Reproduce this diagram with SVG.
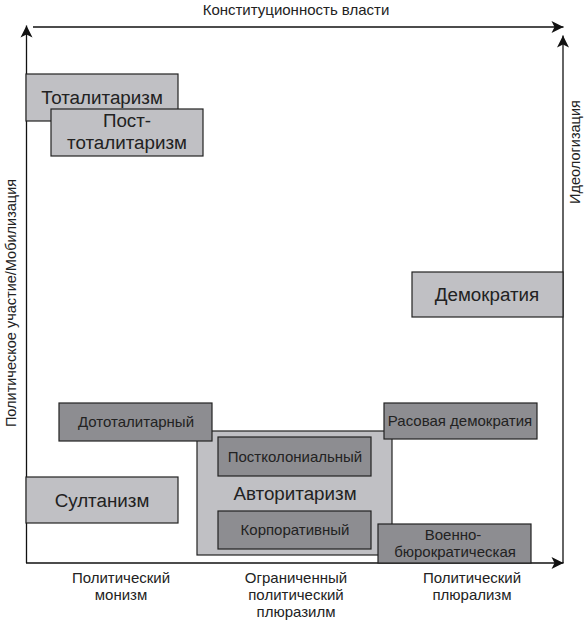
<svg xmlns="http://www.w3.org/2000/svg" width="585" height="623" viewBox="0 0 585 623">
<style>
  text { font-family: "Liberation Sans", Arial, sans-serif; fill: #222; text-anchor: middle; }
  .big { font-size: 18.8px; }
  .sm { font-size: 15px; }
  .ax { font-size: 15px; }
  .axv { font-size: 14.5px; }
  .light { fill: #c0c0c4; stroke: #222; stroke-width: 1.2; }
  .dark { fill: #8d8d91; stroke: #222; stroke-width: 1.2; }
  .axis { stroke: #111; stroke-width: 1.3; fill: none; }
</style>
<defs>
  <marker id="arr" markerUnits="userSpaceOnUse" markerWidth="14" markerHeight="14" viewBox="0 0 14 14" refX="13" refY="7" orient="auto">
    <path d="M1,1 L13,7 L1,13 L4,7 Z" fill="#111"/>
  </marker>
</defs>
<rect width="585" height="623" fill="#fff"/>
<g id="connectors">
  <line class="axis" x1="26.5" y1="563" x2="26.5" y2="25.5" marker-end="url(#arr)"/>
  <line class="axis" x1="33" y1="27" x2="563.5" y2="27" marker-end="url(#arr)"/>
  <line class="axis" x1="563" y1="563" x2="563" y2="35.5" marker-end="url(#arr)"/>
  <line class="axis" x1="26" y1="563" x2="563.5" y2="563" marker-end="url(#arr)"/>
</g>
<g id="axis-labels">
  <text class="ax" x="296" y="15">Конституционность власти</text>
  <text class="axv" transform="translate(16,303) rotate(-90)">Политическое участие/Мобилизация</text>
  <text class="axv" transform="translate(580,152) rotate(-90)">Идеологизация</text>
  <text class="ax" x="121" y="583">Политический</text>
  <text class="ax" x="121" y="600">монизм</text>
  <text class="ax" x="296" y="583">Ограниченный</text>
  <text class="ax" x="296" y="600">политический</text>
  <text class="ax" x="296" y="617">плюразилм</text>
  <text class="ax" x="472" y="583">Политический</text>
  <text class="ax" x="472" y="600">плюрализм</text>
</g>
<g id="totalitarism">
  <rect class="light" x="26" y="74" width="152" height="47"/>
  <text class="big" x="102" y="104">Тоталитаризм</text>
</g>
<g id="post-totalitarism">
  <rect class="light" x="51" y="109" width="152" height="47"/>
  <text class="big" x="127" y="127">Пост-</text>
  <text class="big" x="127" y="149">тоталитаризм</text>
</g>
<g id="democracy">
  <rect class="light" x="412" y="272" width="151" height="45"/>
  <text class="big" x="487" y="301">Демократия</text>
</g>
<g id="authoritarianism">
  <rect class="light" x="197" y="431" width="195" height="124"/>
  <text class="big" x="295" y="500">Авторитаризм</text>
</g>
<g id="pretotalitarian">
  <rect class="dark" x="59" y="403" width="153" height="38"/>
  <text class="sm" x="136" y="427">Дототалитарный</text>
</g>
<g id="racial-democracy">
  <rect class="dark" x="384" y="403" width="153" height="36"/>
  <text class="sm" x="460" y="426">Расовая демократия</text>
</g>
<g id="postcolonial">
  <rect class="dark" x="218" y="437" width="153" height="39"/>
  <text class="sm" x="295" y="462">Постколониальный</text>
</g>
<g id="corporative">
  <rect class="dark" x="218" y="511" width="153" height="38"/>
  <text class="sm" x="295" y="535">Корпоративный</text>
</g>
<g id="sultanism">
  <rect class="light" x="26" y="477" width="152" height="46"/>
  <text class="big" x="102" y="507">Султанизм</text>
</g>
<g id="military-bureaucratic">
  <rect class="dark" x="378" y="524" width="153" height="39"/>
  <text class="sm" x="453" y="540">Военно-</text>
  <text class="sm" x="455" y="557">бюрократическая</text>
</g>
</svg>
